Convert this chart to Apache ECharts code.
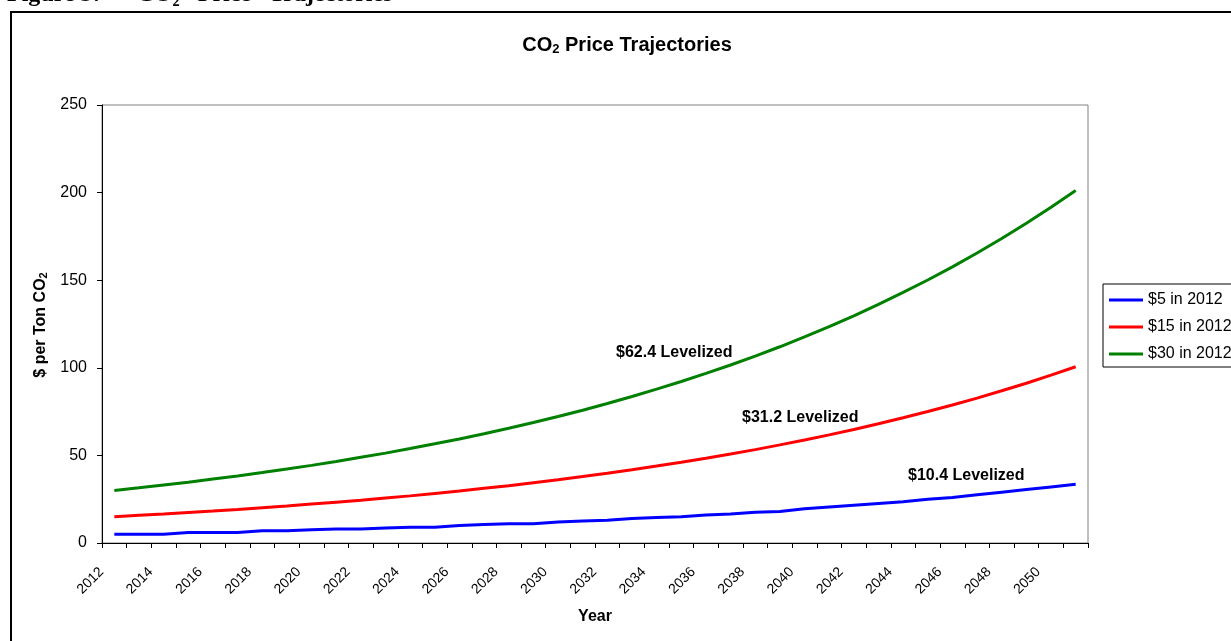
<!DOCTYPE html>
<html>
<head>
<meta charset="utf-8">
<script src="https://cdn.jsdelivr.net/npm/echarts@6/dist/echarts.min.js"></script>
<style>
html,body{margin:0;padding:0;background:#fff;}
#chart{width:1231px;height:641px;}
</style>
</head>
<body>
<div id="chart"></div>
<script>
var years = ['2012','2013','2014','2015','2016','2017','2018','2019','2020','2021',
             '2022','2023','2024','2025','2026','2027','2028','2029','2030','2031',
             '2032','2033','2034','2035','2036','2037','2038','2039','2040','2041',
             '2042','2043','2044','2045','2046','2047','2048','2049','2050','2051'];
var price5 = [5,5,5,6,6,6,7,7,7.5,8,
              8,8.5,9,9,10,10.5,11,11,12,12.5,
              13,14,14.5,15,16,16.5,17.5,18,19.5,20.5,
              21.5,22.5,23.5,25,26,27.5,29,30.5,32,33.5];
var price15 = [15,15.8,16.5,17.4,18.2,19.1,20.1,21.1,22.2,23.3,
               24.4,25.7,26.9,28.3,29.7,31.2,32.7,34.4,36.1,37.9,
               39.8,41.8,43.9,46.1,48.4,50.8,53.3,56.0,58.8,61.7,
               64.8,68.1,71.5,75.1,78.8,82.7,86.9,91.2,95.8,100.6];
var price30 = [30,31.5,33.1,34.7,36.5,38.3,40.2,42.2,44.3,46.5,
               48.9,51.3,53.9,56.6,59.4,62.4,65.5,68.8,72.2,75.8,
               79.6,83.6,87.8,92.2,96.8,101.6,106.7,112.0,117.6,123.5,
               129.7,136.2,143.0,150.1,157.6,165.5,173.8,182.5,191.6,201.2];
var seriesNames = ['$5 in 2012','$15 in 2012','$30 in 2012'];
var levelizedLabels = ['$10.4 Levelized','$31.2 Levelized','$62.4 Levelized'];
var yTicks = [0,50,100,150,200,250];

var FONT = '"Liberation Sans", Arial, sans-serif';
var chart = echarts.init(document.getElementById('chart'));
var option = {
  backgroundColor: '#ffffff',
  animation: false,
  textStyle: { fontFamily: FONT, color: '#000' },
  grid: { left: 102, right: 143, top: 105, bottom: 98, show: true, borderColor: '#808080', borderWidth: 1 },
  legend: {
    orient: 'vertical', left: 1103, top: 284,
    padding: [8, 6, 5, 6], itemGap: 11,
    borderColor: '#000', borderWidth: 1, backgroundColor: '#fff',
    icon: 'rect', itemWidth: 34, itemHeight: 3,
    textStyle: { fontFamily: FONT, fontSize: 16, color: '#000' },
    data: seriesNames
  },
  xAxis: {
    type: 'category', data: years, boundaryGap: true,
    axisLine: { lineStyle: { color: '#000', width: 1 } },
    axisTick: { show: true, interval: 0, length: 5, alignWithLabel: false, lineStyle: { color: '#000' } },
    axisLabel: { interval: 1, rotate: 45, margin: 14, padding: [0, 18, 0, 0], fontSize: 14, color: '#000', fontFamily: FONT },
    splitLine: { show: false }
  },
  yAxis: {
    type: 'value', min: 0, max: 250, interval: 50,
    axisLine: { show: true, lineStyle: { color: '#000', width: 1 } },
    axisTick: { show: true, length: 5, lineStyle: { color: '#000' } },
    axisLabel: { margin: 15, fontSize: 16, color: '#000', fontFamily: FONT,
      formatter: function (v) { return yTicks.indexOf(v) >= 0 ? String(v) : ''; } },
    splitLine: { show: false }
  },
  series: [
    { name: seriesNames[0], type: 'line', data: price5, symbol: 'none', lineStyle: { color: '#0000ff', width: 3 }, itemStyle: { color: '#0000ff' } },
    { name: seriesNames[1], type: 'line', data: price15, symbol: 'none', lineStyle: { color: '#ff0000', width: 3 }, itemStyle: { color: '#ff0000' } },
    { name: seriesNames[2], type: 'line', data: price30, symbol: 'none', lineStyle: { color: '#008000', width: 3 }, itemStyle: { color: '#008000' } }
  ],
  graphic: [
    { type: 'rect', shape: { x: 11, y: 12, width: 1300, height: 700 }, style: { fill: 'none', stroke: '#000', lineWidth: 2 }, silent: true },
    { type: 'text', x: 7, y: -5, style: { text: 'Figure 3:      CO₂   Price   Trajectories', font: 'bold 24px "Liberation Serif", "Times New Roman", serif', fill: '#000', verticalAlign: 'middle', align: 'left' } },
    { type: 'text', x: 627, y: 45, style: {
        text: 'CO{s|2} Price Trajectories', align: 'center', verticalAlign: 'middle',
        font: 'bold 20px ' + FONT, fill: '#000',
        rich: { s: { fontSize: 13, fontWeight: 'bold', fontFamily: FONT, verticalAlign: 'bottom', padding: [8, 0, 0, 0] } }
      } },
    { type: 'text', x: 41, y: 325, rotation: Math.PI / 2, style: {
        text: '$ per Ton CO{s|2}', align: 'center', verticalAlign: 'middle',
        font: 'bold 16px ' + FONT, fill: '#000',
        rich: { s: { fontSize: 11, fontWeight: 'bold', fontFamily: FONT, verticalAlign: 'bottom', padding: [6, 0, 0, 0] } }
      } },
    { type: 'text', x: 595, y: 617, style: { text: 'Year', align: 'center', verticalAlign: 'middle', font: 'bold 16px ' + FONT, fill: '#000' } },
    { type: 'text', x: 616, y: 353, style: { text: levelizedLabels[2], align: 'left', verticalAlign: 'middle', font: 'bold 16px ' + FONT, fill: '#000' } },
    { type: 'text', x: 742, y: 418, style: { text: levelizedLabels[1], align: 'left', verticalAlign: 'middle', font: 'bold 16px ' + FONT, fill: '#000' } },
    { type: 'text', x: 908, y: 476, style: { text: levelizedLabels[0], align: 'left', verticalAlign: 'middle', font: 'bold 16px ' + FONT, fill: '#000' } }
  ]
};
chart.setOption(option);
</script>
</body>
</html>
